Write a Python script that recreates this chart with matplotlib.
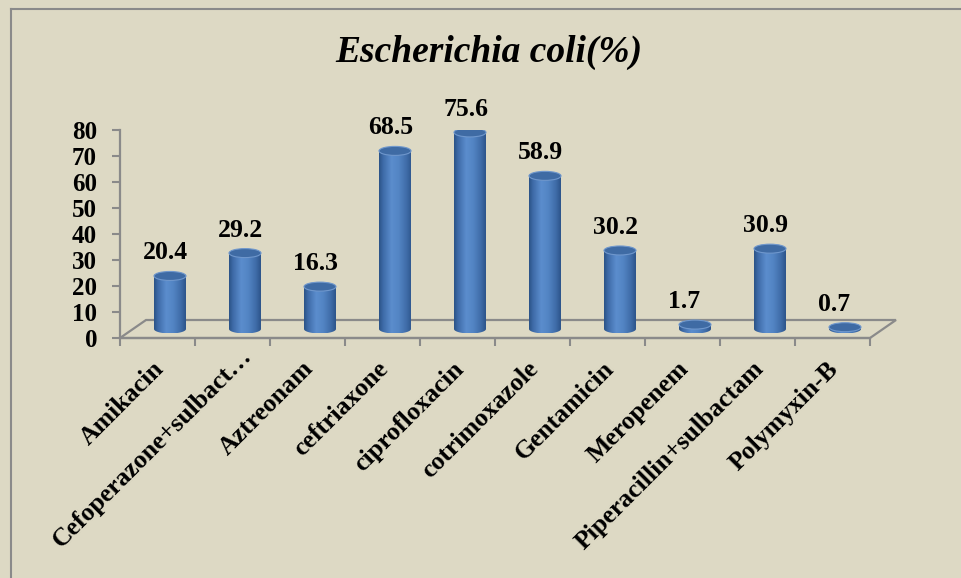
import matplotlib
matplotlib.use("Agg")
import matplotlib.pyplot as plt
import matplotlib.transforms as mtransforms
from matplotlib.patches import Polygon, PathPatch, Ellipse
from matplotlib.path import Path
from matplotlib.colors import LinearSegmentedColormap
from matplotlib.lines import Line2D
import numpy as np

# data
drugs = ["Amikacin", "Cefoperazone+sulbact…", "Aztreonam", "ceftriaxone",
         "ciprofloxacin", "cotrimoxazole", "Gentamicin", "Meropenem",
         "Piperacillin+sulbactam", "Polymyxin-B"]
resist = [20.4, 29.2, 16.3, 68.5, 75.6, 58.9, 30.2, 1.7, 30.9, 0.7]
yticks = [0, 10, 20, 30, 40, 50, 60, 70, 80]
title = "Escherichia coli(%)"

W, H = 961, 578
bg = "#DDD9C4"
grey = "#8A8A8A"
serif = "Liberation Serif"
fs = 18.5

fig = plt.figure(figsize=(W / 100, H / 100), dpi=100, facecolor=bg)
ax = fig.add_axes([120 / W, 1 - 338 / H, 750 / W, 208 / H])
ax.set_facecolor("none")
ax.set_autoscale_on(False)
n = len(drugs)
ax.set_xlim(-0.5, n - 0.5)
ax.set_ylim(0, 80)

px_y = 208 / 80.0   # pixels per unit on y
px_x = 750 / n

# bars sit half way into the floor depth
off = ax.transData + mtransforms.ScaledTranslation(0.125, 0.09, fig.dpi_scale_trans)

# floor of the 3d box
dx = 26 / px_x
dy = 18 / px_y
floor = Polygon([(-0.5, 0), (-0.5 + dx, dy), (n - 0.5 + dx, dy), (n - 0.5, 0)],
                closed=True, fill=False, edgecolor=grey, lw=1.6, clip_on=False, zorder=1)
ax.add_patch(floor)

body_cmap = LinearSegmentedColormap.from_list(
    "cyl", [(0, "#2C5488"), (0.12, "#3E6BA8"), (0.38, "#5B8DCD"),
            (0.6, "#5385C4"), (0.85, "#3F6CA8"), (1, "#2D558B")])
grad = np.linspace(0, 1, 64).reshape(1, -1)

bw = 32 / px_x
eh = 4.5 / px_y
t = np.linspace(np.pi, 2 * np.pi, 40)

for i, v in enumerate(resist):
    left, right = i - bw / 2, i + bw / 2
    verts = [(left, v), (left, 0)]
    verts += list(zip(i + bw / 2 * np.cos(t), eh * np.sin(t)))
    verts += [(right, 0), (right, v), (left, v)]
    clip = PathPatch(Path(verts), transform=off, facecolor="none", edgecolor="none", zorder=3)
    ax.add_patch(clip)
    im = ax.imshow(grad, cmap=body_cmap, extent=(left, right, -eh, v), aspect="auto",
                   transform=off, zorder=3, interpolation="bilinear")
    im.set_clip_path(clip)
    top = Ellipse((i, v), bw, 2 * eh, transform=off, facecolor="#3F6BA4",
                  edgecolor="#6F97CC", lw=0.8, zorder=4)
    ax.add_patch(top)
    ax.annotate(f"{v}", xy=(i, v), xycoords=off, xytext=(-27, 23),
                textcoords="offset pixels", ha="left", va="center",
                fontsize=fs, fontweight="bold", family=serif, zorder=5)

ax.set_xlim(-0.5, n - 0.5)
ax.set_ylim(0, 80)

for s in ["top", "right"]:
    ax.spines[s].set_visible(False)
for s in ["left", "bottom"]:
    ax.spines[s].set_color(grey)
    ax.spines[s].set_linewidth(1.6)

ax.set_yticks(yticks)
ax.set_yticklabels([str(y) for y in yticks], fontsize=18, fontweight="bold", family=serif)
ax.tick_params(axis="y", direction="out", length=6, width=1.5, color=grey, pad=10.5)

ax.set_xticks(np.arange(n))
ax.set_xticklabels(drugs, rotation=45, ha="right", va="baseline", rotation_mode="anchor",
                   fontsize=fs, fontweight="bold", family=serif)
ax.set_xticks(np.arange(-0.5, n, 1), minor=True)
ax.tick_params(axis="x", which="major", length=0, pad=23)
ax.tick_params(axis="x", which="minor", direction="out", length=6, width=1.5, color=grey)
for lab in ax.get_xticklabels():
    # truncated label sits a bit further along its baseline in the original
    sx, sy = (0.20, 0.13) if lab.get_text().endswith("…") else (0.07, 0)
    lab.set_transform(lab.get_transform()
                      + mtransforms.ScaledTranslation(sx, sy, fig.dpi_scale_trans))

fig.text(489 / W, 1 - 52 / H, title, ha="center", va="center", fontsize=27,
         fontweight="bold", fontstyle="italic", family=serif)

# chart area border (only top and left visible in the crop)
fig.add_artist(Line2D([10.5 / W, 10.5 / W], [0, 1 - 8.5 / H], color=grey, lw=1.5))
fig.add_artist(Line2D([10.5 / W, 1], [1 - 8.5 / H, 1 - 8.5 / H], color=grey, lw=1.5))

fig.savefig("out.png", dpi=100, facecolor=bg)
